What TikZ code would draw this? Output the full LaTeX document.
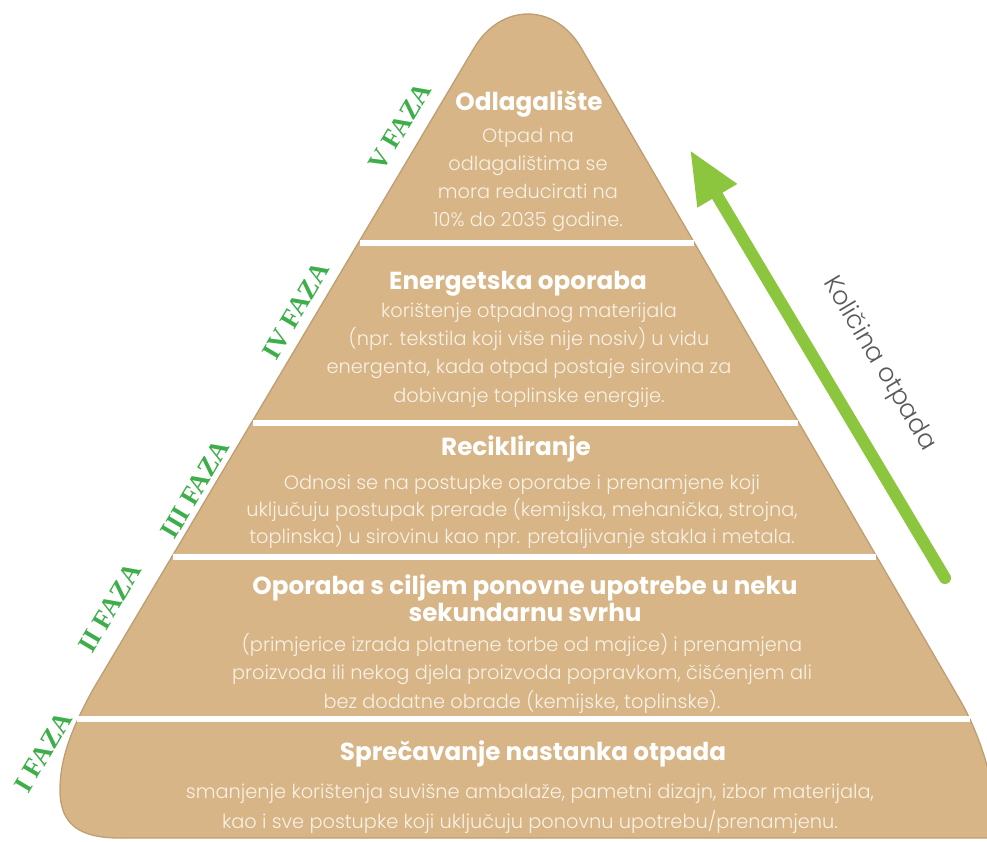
\documentclass[tikz,border=0pt]{standalone}
\usepackage{fontspec}
\setmainfont{Poppins}
\newfontfamily\lightfont{Poppins}[UprightFont=* Light]
\newfontfamily\fazafont{Liberation Serif}
\usetikzlibrary{arrows.meta}
\definecolor{kraft}{HTML}{D7B586}
\definecolor{kraftedge}{HTML}{BE9F74}
\definecolor{fazagreen}{HTML}{3DAE49}
\definecolor{arrowgreen}{HTML}{8CC63F}
\definecolor{bodytxt}{HTML}{F8F1E6}
\definecolor{labelgray}{HTML}{5A5A5A}
\begin{document}
\begin{tikzpicture}[x=0.75pt,y=-0.75pt,
  title/.style={text=white, align=center, inner sep=0pt,
    font=\fontsize{18.5}{20.25}\selectfont\bfseries},
  body/.style={text=bodytxt, align=center, inner sep=0pt},
  faza/.style={text=fazagreen, rotate=59.3, inner sep=0pt,
    font=\fazafont\bfseries\fontsize{20}{22}\selectfont},
  sepline/.style={draw=white, line width=4.5pt},
]
\useasboundingbox (0,0) rectangle (987,841);
\begin{scope}
\clip (0,0) rectangle (987,841);
\path[fill=kraft, draw=kraftedge, line width=1pt]
  (474.1,48) .. controls (501,2.7) and (554.9,2.7) .. (581.2,48)
  -- (960,700) .. controls (975,726) and (990,765) .. (995,805)
  -- (995,838) -- (120,838)
  .. controls (80,838) and (60,825) .. (60,790)
  .. controls (60,758) and (72,728) .. (92.7,690) -- cycle;
\end{scope}
% separator lines
\coordinate (s1l) at (359.5,243);  \coordinate (s1r) at (693.5,243);
\coordinate (s2l) at (252.5,423);  \coordinate (s2r) at (798,423);
\coordinate (s3l) at (173,557);    \coordinate (s3r) at (876,557);
\coordinate (s4l) at (77,719);     \coordinate (s4r) at (970,719);
\draw[sepline] (s1l) -- (s1r);
\draw[sepline] (s2l) -- (s2r);
\draw[sepline] (s3l) -- (s3r);
\draw[sepline] (s4l) -- (s4r);
% tier V
\node[title] (t5) at (529,104) {Odlagalište};
\node[body, font=\lightfont\fontsize{14.5}{20.8}\selectfont] (b5) at (528,180)
  {Otpad na\\odlagalištima se\\mora  reducirati na\\10\% do 2035 godine.};
% tier IV
\node[title] (t4) at (518,284) {Energetska oporaba};
\node[body, font=\lightfont\fontsize{14.5}{21.2}\selectfont] (b4) at (529,355)
  {korištenje otpadnog materijala\\(npr. tekstila koji više nije nosiv) u vidu\\energenta, kada  otpad postaje sirovina za\\dobivanje toplinske energije.};
% tier III
\node[title] (t3) at (516,449) {Recikliranje};
\node[body, font=\lightfont\fontsize{14.5}{20.25}\selectfont] (b3) at (522,512)
  {Odnosi se na postupke oporabe i prenamjene koji\\uključuju postupak prerade (kemijska, mehanička, strojna,\\toplinska) u sirovinu kao npr. pretaljivanje stakla i metala.};
% tier II
\node[title] (t2) at (525,598.5) {Oporaba s ciljem ponovne upotrebe u neku\\sekundarnu svrhu};
\node[body, font=\lightfont\fontsize{14.5}{21.4}\selectfont] (b2) at (522,673)
  {(primjerice izrada platnene torbe od  majice) i prenamjena\\proizvoda ili nekog djela proizvoda popravkom, čišćenjem ali\\bez dodatne obrade (kemijske, toplinske).};
% tier I
\node[title] (t1) at (533,754) {Sprečavanje nastanka otpada};
\node[body, font=\lightfont\fontsize{14.5}{22.5}\selectfont] (b1) at (530,809)
  {smanjenje korištenja suvišne ambalaže, pametni dizajn,  izbor materijala,\\kao i sve postupke koji uključuju ponovnu upotrebu/prenamjenu.};
% phase labels
\node[faza] (f5) at (400,127) {V FAZA};
\node[faza] (f4) at (296,311) {IV FAZA};
\node[faza] (f3) at (195,489) {III FAZA};
\node[faza] (f2) at (110,608) {II FAZA};
\node[faza] (f1) at (43,752) {I FAZA};
% arrow
\coordinate (arrS) at (945,578);
\coordinate (arrE) at (690,150);
\draw[arrowgreen, line width=9pt, line cap=round,
  -{Triangle[length=40pt, width=32pt]}] (arrS) -- (arrE);
\node[text=labelgray, rotate=-59.2, inner sep=0pt,
  font=\lightfont\fontsize{19}{22}\selectfont] (lbl) at (879,364) {Količina otpada};
\end{tikzpicture}
\end{document}
